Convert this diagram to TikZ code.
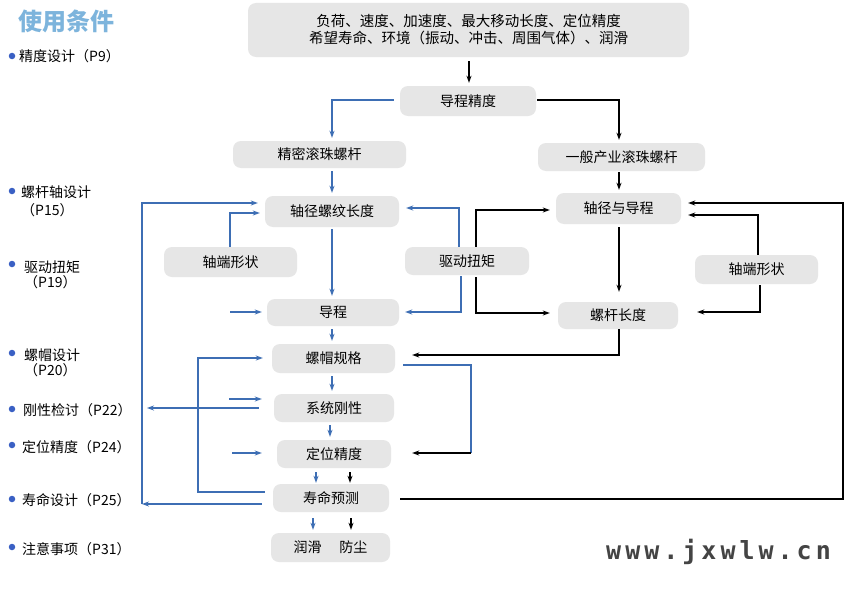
\documentclass[tikz,border=0pt]{standalone}
\usepackage{fontspec}
\setmainfont{Noto Sans CJK SC}
\newfontfamily\wmfont[LetterSpace=16]{DejaVu Sans Mono}
\usetikzlibrary{arrows.meta,calc}
\definecolor{boxgray}{HTML}{E6E6E6}
\definecolor{lineblue}{HTML}{3D6EB4}
\definecolor{dotblue}{HTML}{3A60C4}
\definecolor{titleblue}{HTML}{7DB4DC}
\definecolor{wmgray}{HTML}{444444}
\begin{document}
\begin{tikzpicture}[x=1pt,y=-1pt,
  box/.style={fill=boxgray,rounded corners=8pt,inner sep=0pt,font=\fontsize{14}{16}\selectfont},
  bl/.style={draw=lineblue,line width=1.1pt},
  bk/.style={draw=black,line width=1.1pt},
  arr/.style={-{Stealth[length=7pt,width=5pt]}},
  lbl/.style={anchor=west,inner sep=0pt,font=\fontsize{14}{16}\selectfont},
  dot/.style={circle,fill=dotblue,inner sep=0pt,minimum size=6.5pt}]
\fill[white] (0,0) rectangle (850,594);
\useasboundingbox (0,0) rectangle (850,594);

% title
\node[anchor=west,inner sep=0pt,text=titleblue,font=\bfseries\fontsize{24}{26}\selectfont] (title) at (18,21) {使用条件};

% boxes
\node[box,minimum width=441pt,minimum height=54pt,align=center,font=\fontsize{14.5}{17}\selectfont] (top) at (468.5,30)
  {负荷、速度、加速度、最大移动长度、定位精度\\希望寿命、环境（振动、冲击、周围气体）、润滑};
\node[box,minimum width=136pt,minimum height=30pt] (lead) at (468,101) {导程精度};
\node[box,minimum width=173pt,minimum height=27pt] (prec) at (319.5,154.5) {精密滚珠螺杆};
\node[box,minimum width=167pt,minimum height=28pt] (gen) at (621.5,157) {一般产业滚珠螺杆};
\node[box,minimum width=134pt,minimum height=31pt] (dia) at (332,211.5) {轴径螺纹长度};
\node[box,minimum width=133pt,minimum height=30pt] (endL) at (230.5,262) {轴端形状};
\node[box,minimum width=124pt,minimum height=28pt] (drv) at (467,261) {驱动扭矩};
\node[box,minimum width=132pt,minimum height=27pt] (pitch) at (333,312.5) {导程};
\node[box,minimum width=125pt,minimum height=31pt] (diaR) at (618.5,208.5) {轴径与导程};
\node[box,minimum width=123pt,minimum height=29pt] (endR) at (756.5,269.5) {轴端形状};
\node[box,minimum width=120pt,minimum height=27pt] (slen) at (618,315.5) {螺杆长度};
\node[box,minimum width=123pt,minimum height=29pt] (nut) at (333.5,358.5) {螺帽规格};
\node[box,minimum width=120pt,minimum height=28pt] (rig) at (334,408) {系统刚性};
\node[box,minimum width=114pt,minimum height=28pt] (pos) at (334,454) {定位精度};
\node[box,minimum width=116pt,minimum height=28pt] (life) at (331,498) {寿命预测};
\node[box,minimum width=119pt,minimum height=29pt] (lub) at (330.5,547.5) {润滑\hspace{18pt}防尘};

% route coordinates
\coordinate (lc1) at (142,504);
\coordinate (lc2) at (198,492);
\coordinate (lc3) at (147,408);
\coordinate (in1) at (229,399);
\coordinate (in2) at (232,453);
\coordinate (in3) at (230,312);
\coordinate (rc1) at (843,499);
\coordinate (rc2) at (471,365);
\coordinate (rc3) at (471,453);

% connectors
\draw[bk,arr] ($(top.south)+(0.5,4)$) -- ($(lead.north)+(1,-3)$);
\draw[bl,arr] ($(lead.west)+(-6,-1)$) -| ($(prec.north)+(12.5,-3)$);
\draw[bk,arr] ($(lead.east)+(1,-1)$) -| ($(gen.north)+(-2.5,-3)$);
\draw[bl,arr] ($(prec.south)+(12.5,3)$) -- ($(dia.north)+(0,-3)$);
\draw[bl,arr] ($(dia.south)+(0,2)$) -- ($(pitch.north)+(-1,-3)$);
\draw[bl,arr] ($(pitch.south)+(-1,3)$) -- ($(nut.north)+(-1.5,-3)$);
\draw[bl,arr] ($(nut.south)+(-1.5,3)$) -- ($(rig.north)+(-2,-3)$);
\draw[bl,arr] ($(rig.south)+(-4,3)$) -- ($(pos.north)+(-4,-3)$);
\draw[bl,arr] ($(pos.south)+(-18,4)$) -- ($(life.north)+(-15,-1)$);
\draw[bk,arr] ($(pos.south)+(16,4)$) -- ($(life.north)+(19,-1)$);
\draw[bl,arr] ($(life.south)+(-18,6)$) -- ($(lub.north)+(-17.5,-3)$);
\draw[bk,arr] ($(life.south)+(20,6)$) -- ($(lub.north)+(20.5,-3)$);
\draw[bl,arr] ($(life.west)+(-11,6)$) -- (lc1);
\draw[bl,arr] (lc1) |- ($(dia.west)+(-7,-8.5)$);
\draw[bl,arr] ($(life.west)+(-8,-6)$) -- (lc2) |- ($(nut.west)+(-9,-0.5)$);
\draw[bl,arr] ($(rig.west)+(-15,0)$) -- (lc3);
\draw[bl,arr] (in1) -- ($(rig.west)+(-12,-9)$);
\draw[bl,arr] (in2) -- ($(pos.west)+(-15,-1)$);
\draw[bl,arr] (in3) -- ($(pitch.west)+(-5,-0.5)$);
\draw[bl,arr] ($(endL.north)+(-0.5,0)$) |- ($(dia.west)+(-5,1.5)$);
\draw[bl,arr] ($(drv.north)+(-8,0)$) |- ($(dia.east)+(7,-3.5)$);
\draw[bl,arr] ($(drv.south)+(-6,1)$) |- ($(pitch.east)+(6,-0.5)$);
\draw[bk,arr] ($(drv.north)+(9,0)$) |- ($(diaR.west)+(-6,1.5)$);
\draw[bk,arr] ($(drv.south)+(9,2)$) |- ($(slen.west)+(-8,-2.5)$);
\draw[bk,arr] ($(gen.south)+(-2.5,1)$) -- ($(diaR.north)+(0.5,-3)$);
\draw[bk,arr] ($(diaR.south)+(0.5,3)$) -- ($(slen.north)+(1,-10)$);
\draw[bk,arr] ($(endR.north)+(1.5,0)$) |- ($(diaR.east)+(7,6.5)$);
\draw[bk,arr] ($(endR.south)+(3.5,1)$) |- ($(slen.east)+(19,-3.5)$);
\draw[bk,arr] ($(life.east)+(11,1)$) -- (rc1) |- ($(diaR.east)+(7,-5.5)$);
\draw[bk,arr] ($(slen.south)+(1,0)$) |- ($(nut.east)+(17,-3.5)$);
\draw[bl] ($(nut.east)+(8,6.5)$) -- (rc2) -- (rc3);
\draw[bk,arr] (rc3) -- ($(pos.east)+(21,-1)$);

% left labels
\node[dot] (d1) at (12,56) {};
\node[lbl] (l1) at (19,56) {精度设计（P9）};
\node[dot] (d2) at (12,191) {};
\node[lbl] (l2) at (21,192) {螺杆轴设计};
\node[lbl] (l2b) at (21,210) {（P15）};
\node[dot] (d3) at (12,264) {};
\node[lbl] (l3) at (24,267) {驱动扭矩};
\node[lbl] (l3b) at (24,282) {（P19）};
\node[dot] (d4) at (12,353) {};
\node[lbl] (l4) at (24,355) {螺帽设计};
\node[lbl] (l4b) at (24,370) {（P20）};
\node[dot] (d5) at (12,409) {};
\node[lbl] (l5) at (23,410) {刚性检讨（P22）};
\node[dot] (d6) at (12,445) {};
\node[lbl] (l6) at (22,447) {定位精度（P24）};
\node[dot] (d7) at (12,499) {};
\node[lbl] (l7) at (22,500) {寿命设计（P25）};
\node[dot] (d8) at (12,547) {};
\node[lbl] (l8) at (22,549) {注意事项（P31）};

% watermark
\node[anchor=base west,inner sep=0pt,text=wmgray,font=\wmfont\bfseries\fontsize{25}{27}\selectfont] (wm) at (606,559) {www.jxwlw.cn};
\end{tikzpicture}
\end{document}
